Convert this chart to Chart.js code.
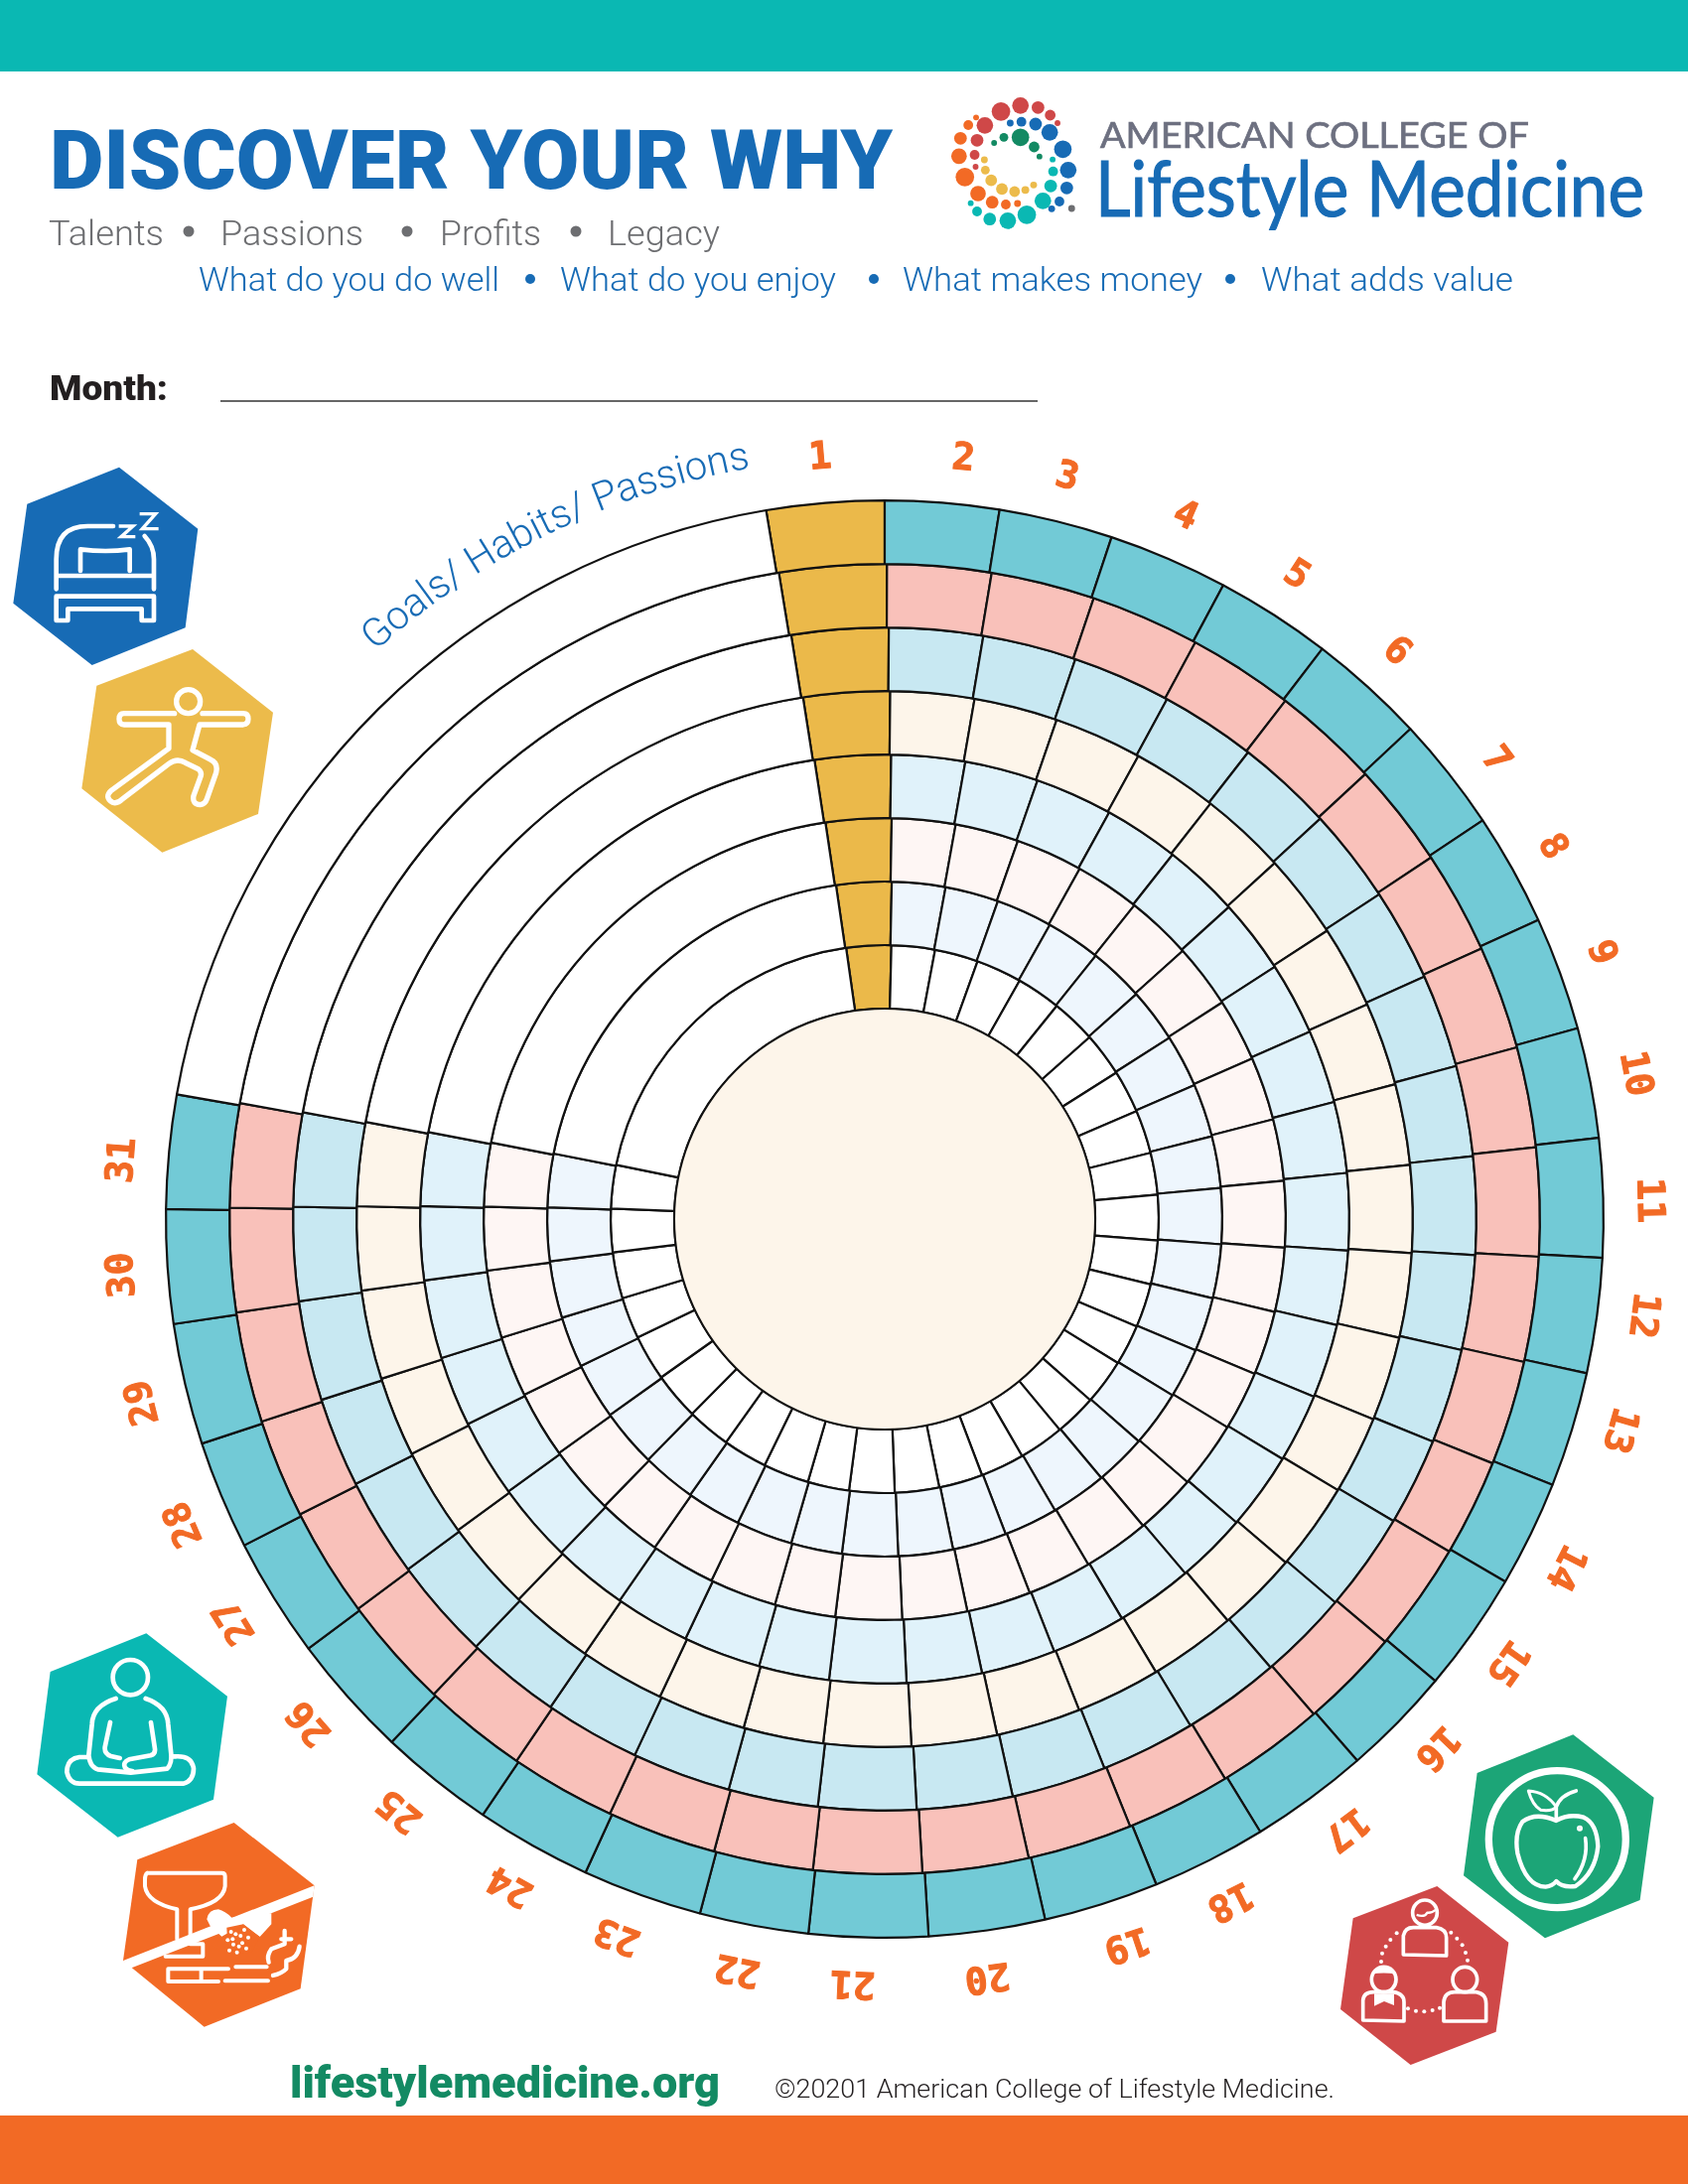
<!DOCTYPE html>
<html>
<head>
<meta charset="utf-8">
<title>Discover Your Why</title>
<script src="https://cdn.jsdelivr.net/npm/chart.js@4"></script>
<style>
  html, body { margin: 0; padding: 0; background: #fff; }
  #page { position: relative; width: 1700px; height: 2200px; overflow: hidden; background: #fff; }
  #wheel, #art { position: absolute; left: 0; top: 0; }
</style>
</head>
<body>
<div id="page">
  <canvas id="wheel" width="1700" height="2200"></canvas>
  <svg id="art" width="1700" height="2200" viewBox="0 0 1700 2200" xmlns="http://www.w3.org/2000/svg">
    <rect x="0" y="0" width="1700" height="72" fill="#0AB8B3"/>
    <rect x="0" y="2131" width="1700" height="69" fill="#F26A25"/>

    <!-- header text -->
    <text x="50" y="190" textLength="849" lengthAdjust="spacingAndGlyphs" font-family="Roboto" font-weight="900" font-size="83" fill="#176BB5">DISCOVER YOUR WHY</text>
    <g font-family="Roboto" font-weight="300" font-size="35" fill="#6D6E71">
      <text x="49" y="247" textLength="116" lengthAdjust="spacingAndGlyphs">Talents</text>
      <text x="222" y="247" textLength="144" lengthAdjust="spacingAndGlyphs">Passions</text>
      <text x="443" y="247" textLength="102" lengthAdjust="spacingAndGlyphs">Profits</text>
      <text x="612" y="247" textLength="113" lengthAdjust="spacingAndGlyphs">Legacy</text>
      <circle cx="190" cy="233" r="5.5"/><circle cx="410" cy="233" r="5.5"/><circle cx="580" cy="233" r="5.5"/>
    </g>
    <g font-family="Roboto" font-weight="300" font-size="33" fill="#176BB5">
      <text x="200" y="293" textLength="303" lengthAdjust="spacingAndGlyphs">What do you do well</text>
      <text x="564" y="293" textLength="278" lengthAdjust="spacingAndGlyphs">What do you enjoy</text>
      <text x="909" y="293" textLength="302" lengthAdjust="spacingAndGlyphs">What makes money</text>
      <text x="1270" y="293" textLength="254" lengthAdjust="spacingAndGlyphs">What adds value</text>
      <circle cx="534" cy="281" r="5"/><circle cx="880" cy="281" r="5"/><circle cx="1239" cy="281" r="5"/>
    </g>
    <text x="50" y="403" textLength="119" lengthAdjust="spacingAndGlyphs" font-family="Roboto" font-weight="900" font-size="35" fill="#231F20">Month:</text>
    <line x1="222" y1="404" x2="1045" y2="404" stroke="#333" stroke-width="1.5"/>

    <!-- logo -->
    <g id="logoDots"></g>
    <text x="1108" y="149" textLength="432" lengthAdjust="spacingAndGlyphs" font-family="Lato" font-weight="400" font-size="36" fill="#6D7080" stroke="#6D7080" stroke-width=".7">AMERICAN COLLEGE OF</text>
    <text x="1103" y="218" textLength="553" lengthAdjust="spacingAndGlyphs" font-family="Lato" font-weight="400" font-size="78" fill="#176BB5" stroke="#176BB5" stroke-width="1.2">Lifestyle Medicine</text>

    <!-- curved caption -->
    <defs><path id="captionArc" d="M 378 656 A 767 767 0 0 1 770 469"/></defs>
    <text font-family="Roboto" font-weight="300" font-size="40" fill="#176BB5" id="caption"></text>

    <!-- sleep -->
    <g transform="translate(0 450) scale(.3333)" fill="none" stroke="#fff" stroke-width="14" stroke-linecap="round" stroke-linejoin="round">
      <polygon points="360,62 598,248 560,547 278,660 40,473 82,173" fill="#176BB5" stroke="none"/>
      <path d="M170 430V340Q170 240 265 240H342M437 270Q465 300 465 340V430M175 390H460"/>
      <path d="M243 375V310Q320 320 392 310V375"/>
      <path d="M170 452H465V525H428V490H205V525H170Z"/>
      <path d="M364 240H402L366 272H404M427 203H470L430 248H474" stroke-width="10" stroke-linecap="square" stroke-linejoin="miter"/>
    </g>
    <!-- movement -->
    <g transform="translate(0 450) scale(.3333)" fill="none" stroke="#fff" stroke-width="16" stroke-linecap="round" stroke-linejoin="round">
      <polygon points="582,612 825,803 780,1110 490,1226 247,1033 292,722" fill="#ECBB4B" stroke="none"/>
      <circle cx="569" cy="770" r="36"/>
      <path d="M527 806H375Q360 806 360 823Q360 840 375 840H510V912L335 1040Q315 1060 340 1075Q355 1080 370 1065L510 958Q535 940 560 955L600 975Q612 985 605 1000L585 1055Q580 1080 605 1082Q620 1080 625 1065L653 985Q660 955 635 945L582 917L603 840H735Q750 838 750 823Q750 806 735 806H612"/>
    </g>
    <!-- stress -->
    <g transform="translate(20 1630) scale(.3333)" fill="none" stroke="#fff" stroke-width="14" stroke-linecap="round" stroke-linejoin="round">
      <polygon points="382,46 627,236 585,548 296,662 52,472 92,162" fill="#0AB8B3" stroke="none"/>
      <circle cx="334" cy="179" r="53"/>
      <path d="M290 243Q220 265 218 320L208 415Q212 450 235 457L335 467L445 455Q460 440 457 410L448 320Q445 265 380 243"/>
      <path d="M273 315L257 390Q255 410 275 417L302 423M396 315L408 395Q410 410 395 415L330 427Q310 435 318 452Q325 462 340 462"/>
      <path d="M205 420H180Q142 425 142 465Q150 500 180 500H495Q525 490 525 455Q520 415 470 418H462"/>
    </g>
    <!-- substances -->
    <g transform="translate(20 1630) scale(.3333)" fill="none" stroke="#fff" stroke-width="12" stroke-linejoin="round" stroke-linecap="round">
      <polygon points="647,618 890,808 848,1120 557,1235 312,1035 355,730" fill="#F26A25" stroke="none"/>
      <path d="M385 770H610Q620 770 620 780V810Q615 860 515 880V960M385 770Q378 775 378 790V810Q385 860 475 880V970"/>
      <path d="M565 910Q570 880 600 880Q620 885 640 905L760 892V925L725 963L675 925L610 962L575 930Z" fill="#fff" stroke="none"/>
      <polygon points="312,1035 890,808 886,842 330,1060" fill="#fff" stroke="none"/>
      <path d="M625 935L675 925L725 963L700 1010L630 1015Z" fill="#F26A25" stroke="none"/>
      <g fill="#fff" stroke="none" id="crumbs"></g>
      <path d="M440 1022H553V985H515"/>
      <path d="M448 1060H630M448 1098H600M448 1060V1098M548 1060V1098M652 1054H746M620 1096H750"/>
      <path d="M800 945V985L760 1000Q745 1020 752 1040M845 992Q840 1030 805 1035V1060Q790 1075 765 1080M790 970H820" stroke-width="13"/>
    </g>
    <!-- nutrition -->
    <g transform="translate(1330 1730) scale(.3333)" fill="none" stroke="#fff" stroke-width="13" stroke-linecap="round" stroke-linejoin="round">
      <polygon points="763,52 1007,242 965,552 678,667 432,478 473,168" fill="#1CA577" stroke="none"/>
      <circle cx="715" cy="368" r="207" stroke-width="22"/>
      <path d="M712 312Q650 285 610 315Q585 350 595 410Q620 510 680 512Q700 510 712 495Q730 515 770 510Q830 470 838 390Q835 320 795 302Q750 290 712 312Z"/>
      <path d="M712 310V270Q725 235 772 222" stroke-width="11"/>
      <path d="M628 222Q680 225 712 270Q700 285 665 280Q640 265 628 222Z" stroke-width="9"/>
      <path d="M800 365Q810 430 768 488" stroke-width="11"/>
      <circle cx="783" cy="335" r="5" stroke-width="8"/>
    </g>
    <!-- relationships -->
    <g transform="translate(1330 1730) scale(.3333)" fill="none" stroke="#fff" stroke-width="11" stroke-linejoin="round">
      <polygon points="352,510 568,680 530,950 272,1050 60,882 98,607" fill="#CF4848" stroke="none"/>
      <ellipse cx="315" cy="590" rx="37" ry="38"/>
      <path d="M290 597Q315 605 322 590Q335 592 350 580" stroke-width="7"/>
      <path d="M250 717V660Q255 635 280 635H350Q380 640 380 665V720Z"/>
      <ellipse cx="191" cy="792" rx="37" ry="38"/>
      <path d="M155 775Q190 770 228 775L215 755H170Z" fill="#fff" stroke="none"/>
      <path d="M128 915V855Q130 830 160 830H220Q252 835 252 860V918Z"/>
      <polygon points="162,835 222,835 222,870 192,858 162,872" fill="#fff" stroke="none"/>
      <ellipse cx="436" cy="792" rx="37" ry="38"/>
      <path d="M372 918V860Q375 830 405 830H470Q500 835 500 865V918Z"/>
      <g fill="#fff" stroke="none" id="linkDots"></g>
    </g>

    <!-- footer -->
    <text x="292" y="2113" textLength="433" lengthAdjust="spacingAndGlyphs" font-family="Roboto" font-weight="900" font-size="44" fill="#138A63">lifestylemedicine.org</text>
    <text x="780" y="2113" textLength="564" lengthAdjust="spacingAndGlyphs" font-family="Roboto" font-weight="300" font-size="26" fill="#231F20">©20201 American College of Lifestyle Medicine.</text>
  </svg>
</div>

<script>
// Data
const dayLabels = ['1','2','3','4','5','6','7','8','9','10','11','12','13','14','15','16','17','18','19','20','21','22','23','24','25','26','27','28','29','30','31'];
// width of each day's column, degrees round the wheel
const dayWidths = [9.5,9.2,9.2,9.7,9.4,9.5,9.3,9.1,9.2,8.9,9.6,9.3,9.3,8.6,9.7,8.9,9.6,9.3,9.3,9.4,9.6,8.8,9.7,9.4,9.3,10,9.7,8.8,9.8,9.2,9.2];
const captionWidth = 70.5;
const startAngle = -9.5;
// the columns lean a little clockwise going inward, outer ring first
const ringTwist = [0,0.2,0.4,0.6,0.8,1,1.2,1.4];
// where a printed number sits off its column centre, degrees
const labelNudge = [-0.1,1.3,0,-0.1,-0.2,-0.2,1.45,0,-0.4,0,0.3,-0.5,-1,1.1,0.3,-0.7,-0.8,0,-0.9,0.5,1.1,0.6,0.7,0,0.7,0.5,0.1,-0.9,-0.6,-0.4,-1];
const ringColors = ['#72CAD6','#F9C1BA','#C8E8F2','#FDF5EA','#E0F2FA','#FEF6F4','#EEF6FD','#FFFFFF'];
const firstDayColor = '#EBB94A';

// Logo
const logoDots = {
  '#CF4848': [[159,97,19],[199,79,17],[235,85,13],[260,108,11],[275,132,6],[126,139,17],[110,184,13],[105,228,10],[107,264,6]],
  '#F26A25': [[92,138,10],[108,115,6],[76,178,13],[73,232,16],[85,295,19],[112,345,16],[141,371,13],[169,378,10],[193,375,7]],
  '#176BB5': [[178,132,7],[201,128,10],[230,135,13],[259,160,17],[286,211,18],[297,274,17],[294,328,13],[279,369,10],[263,391,7]],
  '#138A63': [[145,192,6],[165,175,9],[199,175,18],[227,204,11],[238,233,6]],
  '#0AB8B3': [[265,242,6],[266,278,10],[261,322,13],[245,367,17],[212,409,19],[173,427,17],[136,422,13],[110,399,10],[97,374,6]],
  '#ECBB4B': [[125,243,7],[127,274,9],[139,305,12],[161,331,12],[187,339,11],[209,334,8],[226,319,7]],
  '#6D6E71': [[304,390,7]]
};
const crumbs = [[638,948],[652,955],[678,942],[667,960],[690,965],[628,973],[643,970],[672,982],[645,986],[662,992],[684,998],[633,1004],[656,1010]];
const linkDots = [[230,652],[211,672],[197,692],[186,713],[183,738],[394,650],[412,668],[428,688],[438,711],[444,734],[264,880],[288,887],[313,889],[338,885],[360,878]];

const svgNs = 'http://www.w3.org/2000/svg';
const addCircle = (parent, cx, cy, r, fill) => {
  const c = document.createElementNS(svgNs, 'circle');
  c.setAttribute('cx', cx);
  c.setAttribute('cy', cy);
  c.setAttribute('r', r);
  if (fill) c.setAttribute('fill', fill);
  parent.appendChild(c);
};

const renderArt = () => {
  const logo = document.getElementById('logoDots');
  Object.keys(logoDots).forEach((color) => {
    logoDots[color].forEach(([x, y, r]) => addCircle(logo, 930 + x * 0.491, 80 + y / 3, r * 0.491, color));
  });
  crumbs.forEach(([x, y]) => addCircle(document.getElementById('crumbs'), x, y, 6));
  linkDots.forEach(([x, y]) => addCircle(document.getElementById('linkDots'), x, y, 6));

  const caption = document.getElementById('caption');
  const tp = document.createElementNS(svgNs, 'textPath');
  tp.setAttribute('href', '#captionArc');
  tp.textContent = 'Goals/ Habits/ Passions';
  caption.appendChild(tp);
};

// Chart
const wheelCenter = { x: 891, y: 1228 };
const wheelRadius = 725;

const innerDisc = {
  id: 'innerDisc',
  afterDatasetsDraw(chart) {
    const meta = chart.getDatasetMeta(ringColors.length - 1);
    const arc = meta.data[0];
    const { ctx } = chart;
    ctx.save();
    ctx.beginPath();
    ctx.arc(arc.x, arc.y, arc.innerRadius, 0, Math.PI * 2);
    ctx.fillStyle = '#FDF5EA';
    ctx.fill();
    ctx.lineWidth = 2;
    ctx.strokeStyle = '#111';
    ctx.stroke();
    ctx.restore();
  }
};

const dayNumbers = {
  id: 'dayNumbers',
  afterDraw(chart) {
    const arcs = chart.getDatasetMeta(0).data;
    const { ctx } = chart;
    ctx.save();
    ctx.font = 'bold 38px "DejaVu Sans Mono"';
    ctx.fillStyle = '#F26A25';
    ctx.strokeStyle = '#F26A25';
    ctx.lineWidth = 1;
    ctx.textAlign = 'center';
    ctx.textBaseline = 'middle';
    dayLabels.forEach((label, i) => {
      const mid = (arcs[i].startAngle + arcs[i].endAngle) / 2 + labelNudge[i] * Math.PI / 180;
      const r = arcs[i].outerRadius + 45;
      ctx.save();
      ctx.translate(arcs[i].x + Math.cos(mid) * r, arcs[i].y + Math.sin(mid) * r);
      ctx.rotate(mid + Math.PI / 2);
      ctx.fillText(label, 0, 0);
      ctx.strokeText(label, 0, 0);
      ctx.restore();
    });
    ctx.restore();
  }
};

const renderWheel = () => {
  const datasets = ringColors.map((color, k) => ({
    data: dayWidths.concat(captionWidth),
    rotation: startAngle + ringTwist[k],
    backgroundColor: dayLabels.map((d, i) => (i === 0 ? firstDayColor : color)).concat('#FFFFFF'),
    borderColor: '#111111',
    borderWidth: 2.2
  }));

  new Chart(document.getElementById('wheel'), {
    type: 'doughnut',
    data: { labels: dayLabels.concat(''), datasets },
    options: {
      responsive: false,
      animation: false,
      devicePixelRatio: 1,
      cutout: 212,
      layout: {
        padding: {
          left: wheelCenter.x - wheelRadius,
          right: 1700 - wheelCenter.x - wheelRadius,
          top: wheelCenter.y - wheelRadius,
          bottom: 2200 - wheelCenter.y - wheelRadius
        }
      },
      plugins: { legend: { display: false }, tooltip: { enabled: false } }
    },
    plugins: [innerDisc, dayNumbers]
  });
};

// Main
renderArt();
renderWheel();
</script>
</body>
</html>
